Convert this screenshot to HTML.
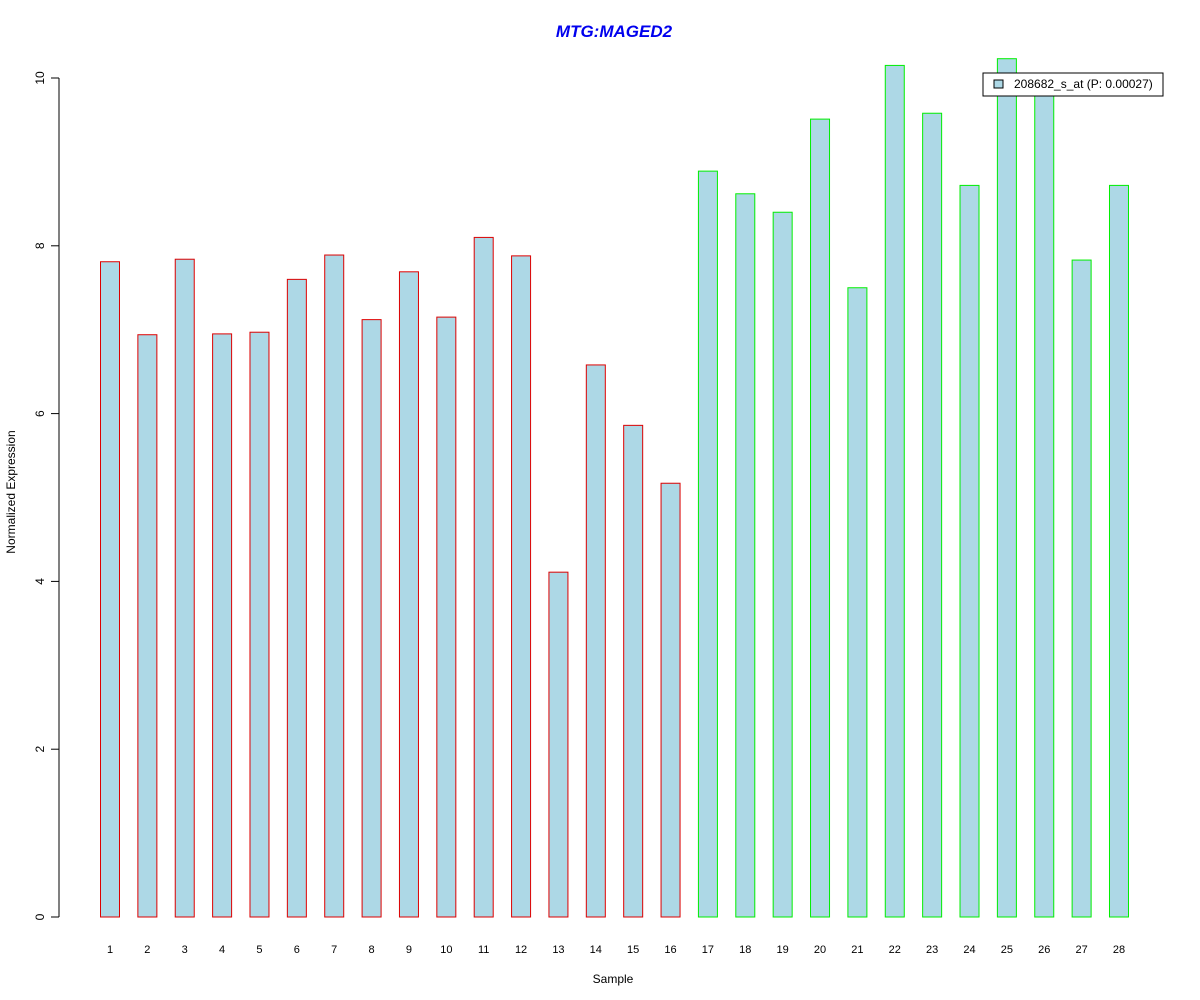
<!DOCTYPE html>
<html><head><meta charset="utf-8"><style>body{margin:0;background:#fff}svg{display:block}text{font-family:"Liberation Sans",Arial,sans-serif}</style></head>
<body>
<svg id="chart" width="1200" height="1000">
<text x="614" y="37" text-anchor="middle" font-size="17" font-weight="bold" font-style="italic" fill="#0000ee">MTG:MAGED2</text>
<text x="613" y="983" text-anchor="middle" font-size="12">Sample</text>
<text transform="translate(15,492) rotate(-90)" text-anchor="middle" font-size="12">Normalized Expression</text>
<g id="yaxis"></g>
<g id="bars"></g>
<g id="xlabels"></g>
<g>
<rect x="983" y="73" width="180" height="23" fill="#fff" stroke="#000"/>
<rect x="994" y="80" width="9" height="8" fill="#add8e6" stroke="#000"/>
<text x="1014" y="88" font-size="12">208682_s_at (P: 0.00027)</text>
</g>
</svg>
<script>
const categories=["1","2","3","4","5","6","7","8","9","10","11","12","13","14","15","16","17","18","19","20","21","22","23","24","25","26","27","28"];
const values=[7.81,6.94,7.84,6.95,6.97,7.60,7.89,7.12,7.69,7.15,8.10,7.88,4.11,6.58,5.86,5.17,8.89,8.62,8.40,9.51,7.50,10.15,9.58,8.72,10.23,9.90,7.83,8.72];
const groups=[0,0,0,0,0,0,0,0,0,0,0,0,0,0,0,0,1,1,1,1,1,1,1,1,1,1,1,1];
const yTicks=[0,2,4,6,8,10];
const NS="http://www.w3.org/2000/svg";
function y(v){return 917-v*83.9;}
function x(i){return 100+i*37.37;}
function mk(t,a,p){const e=document.createElementNS(NS,t);for(const k in a)e.setAttribute(k,a[k]);p.appendChild(e);return e;}
const ya=document.getElementById('yaxis');
mk('line',{x1:59,x2:59,y1:y(0),y2:y(10),stroke:'#000'},ya);
yTicks.forEach(t=>{
const l=mk('line',{x1:51,x2:59,y1:y(t),y2:y(t),stroke:'#000'},ya);


const tx=mk('text',{transform:`translate(44,${y(t)}) rotate(-90)`,'text-anchor':'middle','font-size':12},ya);


tx.textContent=t;});
const bg=document.getElementById('bars'),xl=document.getElementById('xlabels');
values.forEach((v,i)=>{
const r=mk('rect',{x:x(i)+0.5,y:y(v),width:19,height:y(0)-y(v),fill:'#add8e6',stroke:groups[i]?'#00ee00':'#dd0000'},bg);


const t=mk('text',{x:x(i)+10,y:953,'text-anchor':'middle','font-size':11},xl);


t.textContent=categories[i];});
</script>
</body></html>
